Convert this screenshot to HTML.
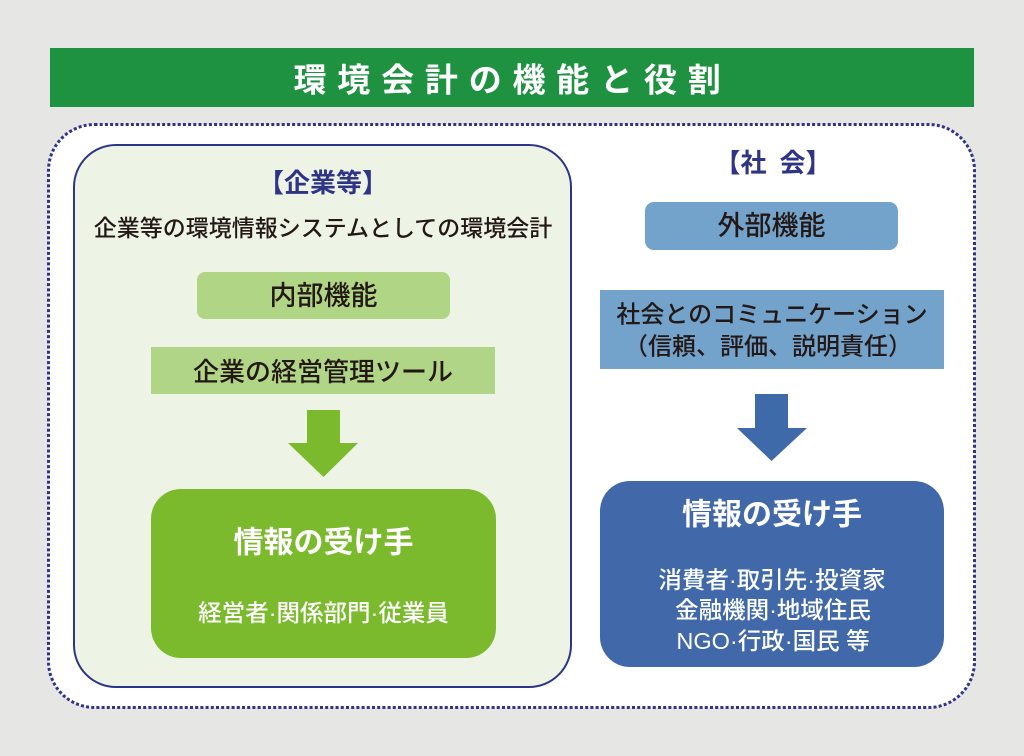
<!DOCTYPE html>
<html><head><meta charset="utf-8"><style>
html,body{margin:0;padding:0;background:#e6e6e4;}
svg{display:block;}
text{font-family:"Liberation Sans","Noto Sans CJK JP",sans-serif;}
</style></head><body>
<svg width="1024" height="756" viewBox="0 0 1024 756" xmlns="http://www.w3.org/2000/svg">
<rect x="0" y="0" width="1024" height="756" fill="#e6e6e4"/>
<!-- title bar -->
<rect x="50" y="48" width="924" height="59" fill="#1f9242"/>
<text y="80" fill="#ffffff" font-size="33" font-weight="700" text-anchor="middle" dominant-baseline="central" x="310 353.8 397.6 441.4 485.2 529 572.8 616.6 660.4 704.2">環境会計の機能と役割</text>
<!-- outer dotted -->
<rect x="48.5" y="124.5" width="926" height="583" rx="46" ry="46" fill="#ffffff" stroke="#2f3487" stroke-width="3" stroke-dasharray="3 2.2"/>
<!-- left panel -->
<rect x="74" y="145" width="497" height="542" rx="42" ry="42" fill="#eef4e5" stroke="#2f3487" stroke-width="2"/>
<text x="323" y="183" fill="#2f3487" font-size="26" font-weight="700" text-anchor="middle" dominant-baseline="central">【企業等】</text>
<text x="323" y="228" fill="#231815" font-size="23" font-weight="500" text-anchor="middle" dominant-baseline="central">企業等の環境情報システムとしての環境会計</text>
<rect x="197" y="272" width="253" height="47" rx="8" ry="8" fill="#b0d584"/>
<text x="323.5" y="296" fill="#231815" font-size="27" font-weight="500" text-anchor="middle" dominant-baseline="central">内部機能</text>
<rect x="151" y="347" width="344" height="47" fill="#b1d586"/>
<text x="323" y="372" fill="#231815" font-size="26" font-weight="500" text-anchor="middle" dominant-baseline="central">企業の経営管理ツール</text>
<polygon points="307,410 340,410 340,443 358,443 323.5,477 288,443 307,443" fill="#7aba2c"/>
<rect x="151" y="489" width="345" height="169" rx="30" ry="30" fill="#7aba2c"/>
<text x="323.5" y="543" fill="#ffffff" font-size="30" font-weight="700" text-anchor="middle" dominant-baseline="central">情報の受け手</text>
<text x="323.5" y="613" fill="#ffffff" font-size="23.5" font-weight="500" text-anchor="middle" dominant-baseline="central">経営者·関係部門·従業員</text>
<!-- right side -->
<text x="773" y="163" fill="#2f3487" font-size="26" font-weight="700" text-anchor="middle" dominant-baseline="central">【社&#8194;会】</text>
<rect x="645" y="202" width="253" height="48" rx="9" ry="9" fill="#73a2cb"/>
<text x="771.5" y="226" fill="#231815" font-size="27" font-weight="500" text-anchor="middle" dominant-baseline="central">外部機能</text>
<rect x="600" y="290" width="344" height="79" fill="#73a2cb"/>
<text x="772" y="315" fill="#231815" font-size="24" font-weight="500" text-anchor="middle" dominant-baseline="central">社会とのコミュニケーション</text>
<text x="768" y="347" fill="#231815" font-size="24" font-weight="500" text-anchor="middle" dominant-baseline="central">（信頼、評価、説明責任）</text>
<polygon points="755,394 788,394 788,428 807,428 771.5,461 737,428 755,428" fill="#3f6aaa"/>
<rect x="600" y="481" width="344" height="186" rx="30" ry="30" fill="#4169a9"/>
<text x="772" y="515" fill="#ffffff" font-size="30" font-weight="700" text-anchor="middle" dominant-baseline="central">情報の受け手</text>
<text x="772" y="580" fill="#ffffff" font-size="23.5" font-weight="500" text-anchor="middle" dominant-baseline="central">消費者·取引先·投資家</text>
<text x="773" y="610" fill="#ffffff" font-size="23.5" font-weight="500" text-anchor="middle" dominant-baseline="central">金融機関·地域住民</text>
<text x="773" y="641" fill="#ffffff" font-size="23.5" font-weight="500" text-anchor="middle" dominant-baseline="central">NGO·行政·国民 等</text>
</svg>
</body></html>
